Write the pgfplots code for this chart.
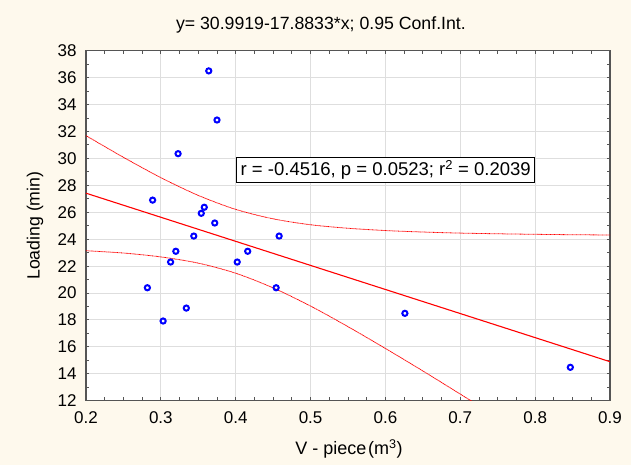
\documentclass[border=0pt]{standalone}
\usepackage{pgfplots}
\pgfplotsset{compat=1.18}
\usepackage{fontspec}
\setmainfont{Liberation Sans}
\definecolor{bgc}{RGB}{254,249,237}
\definecolor{framec}{RGB}{85,85,85}
\definecolor{gridc}{RGB}{222,222,222}
\begin{document}
\begin{tikzpicture}
\fill[bgc] (-86pt,-64.3pt) rectangle (545pt,400.7pt);
\begin{axis}[
  scale only axis, width=524pt, height=350pt,
  at={(0,0)}, anchor=south west,
  xmin=0.2, xmax=0.9, ymin=12, ymax=38,
  xtick={0.2,0.3,0.4,0.5,0.6,0.7,0.8,0.9},
  ytick={12,14,16,18,20,22,24,26,28,30,32,34,36,38},
  minor x tick num=3, minor y tick num=1,
  tick align=inside, major tick length=3.5pt, minor tick length=3.5pt,
  tick style={framec, line width=0.9pt},
  axis line style={framec, line width=1.6pt},
  grid=major, major grid style={gridc, line width=0.9pt},
  axis background/.style={fill=white},
  /pgf/number format/assume math mode=true,
  ticklabel style={font=\fontsize{17}{20}\selectfont},
  xticklabel style={/pgf/number format/.cd, fixed, fixed zerofill, precision=1, /tikz/.cd, yshift=-7pt},
  yticklabel style={xshift=-6pt},
  title={y= 30.9919-17.8833*x; 0.95 Conf.Int.},
  title style={at={(0.4483,1)}, anchor=base, yshift=15pt, font=\fontsize{17.7}{20}\selectfont},
  xlabel={V - piece\hspace{0.1em}(m\textsuperscript{3})},
  xlabel style={at={(axis description cs:0.502,0)}, anchor=base, yshift=-54.3pt, font=\fontsize{18}{20}\selectfont},
  ylabel={Loading (min)},
  ylabel style={at={(axis description cs:-0.0973,0.5)}, anchor=center, font=\fontsize{17.7}{20}\selectfont},
]
% confidence bands
\addplot[red, line width=0.8pt, dash pattern=on 0.8pt off 0.5pt, smooth] coordinates {
 (0.20,31.69) (0.25,30.08) (0.30,28.57) (0.35,27.25) (0.40,26.21) (0.45,25.51)
 (0.50,25.07) (0.55,24.81) (0.60,24.64) (0.65,24.53) (0.70,24.45) (0.75,24.40)
 (0.80,24.36) (0.85,24.33) (0.90,24.31)};
\addplot[red, line width=0.8pt, dash pattern=on 0.8pt off 0.5pt, smooth] coordinates {
 (0.20,23.14) (0.25,22.97) (0.30,22.68) (0.35,22.22) (0.40,21.47) (0.45,20.38)
 (0.50,19.03) (0.55,17.50) (0.60,15.88) (0.65,14.21) (0.70,12.49) (0.75,10.76)
 (0.80,9.01) (0.85,7.25) (0.90,5.49)};
% regression line
\addplot[red, line width=1.1pt] coordinates {(0.2,27.415) (0.9,14.897)};
% data
\addplot[blue, only marks, mark=o, line width=2pt, mark size=2.6pt] coordinates {
 (0.364,36.50) (0.375,32.85) (0.323,30.35) (0.289,26.90) (0.358,26.37)
 (0.354,25.92) (0.372,25.20) (0.344,24.23) (0.458,24.23) (0.320,23.10)
 (0.416,23.10) (0.313,22.30) (0.402,22.30) (0.282,20.39) (0.454,20.39)
 (0.334,18.88) (0.303,17.92) (0.626,18.49) (0.847,14.48)};
\node[draw=black, line width=1pt, fill=white, inner xsep=4pt, inner ysep=3pt,
  font=\fontsize{18.5}{20}\selectfont, minimum height=23.3pt]
  at (axis cs:0.6004,29.12) {r = -0.4516, p = 0.0523; r\textsuperscript{2} = 0.2039};
\end{axis}
\end{tikzpicture}
\end{document}
